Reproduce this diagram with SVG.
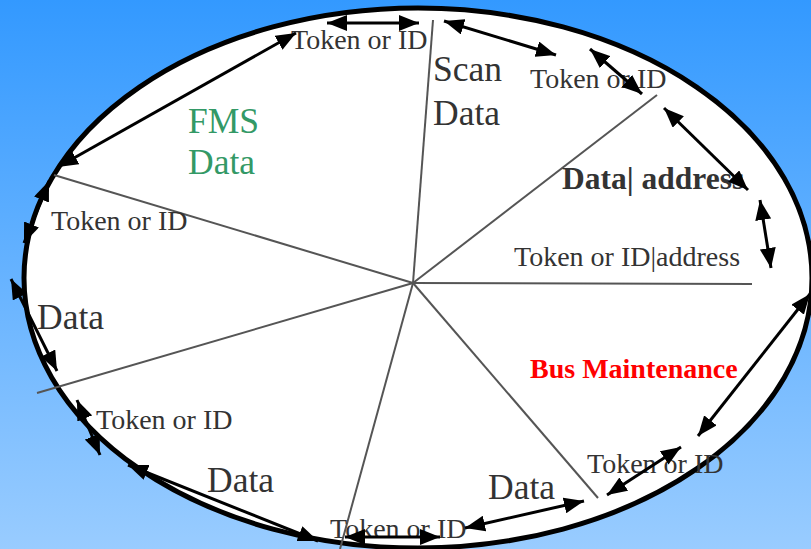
<svg xmlns="http://www.w3.org/2000/svg" width="811" height="549" viewBox="0 0 811 549">
  <defs>
    <linearGradient id="bg" x1="0" y1="0" x2="0" y2="1">
      <stop offset="0" stop-color="#3399FF"/>
      <stop offset="1" stop-color="#99CCFF"/>
    </linearGradient>
    <marker id="ah" viewBox="0 0 20 16" markerWidth="20" markerHeight="16" refX="20" refY="8" markerUnits="userSpaceOnUse" orient="auto-start-reverse">
      <path d="M0,0 L20,8 L0,16 z" fill="#000"/>
    </marker>
    <style>
      .t { font-family: "Liberation Serif", "Times New Roman", serif; fill: #333333; font-size: 28px; }
      .big { font-size: 35.5px; }
      .bold { font-weight: bold; }
      .spoke { stroke: #555555; stroke-width: 2; fill: none; }
      .arr { stroke: #000; stroke-width: 3; fill: none; marker-start: url(#ah); marker-end: url(#ah); }
    </style>
  </defs>
  <rect x="0" y="0" width="811" height="549" fill="url(#bg)"/>
  <g id="ring">
    <ellipse cx="418" cy="278" rx="394" ry="270" fill="#FFFFFF" stroke="#000" stroke-width="5"/>
  </g>
  <g id="spokes">
    <line class="spoke" x1="413" y1="283" x2="433" y2="20"/>
    <line class="spoke" x1="413" y1="283" x2="657" y2="95"/>
    <line class="spoke" x1="413" y1="283" x2="752" y2="284"/>
    <line class="spoke" x1="413" y1="283" x2="598" y2="498"/>
    <line class="spoke" x1="413" y1="283" x2="340" y2="549"/>
    <line class="spoke" x1="413" y1="283" x2="37" y2="393"/>
    <line class="spoke" x1="413" y1="283" x2="54" y2="175"/>
  </g>
  <g id="label-token-top"><text class="t" x="291" y="49">Token or ID</text></g>
  <g id="label-scan-data"><text class="t big" x="433" y="81">Scan</text><text class="t big" x="433" y="125">Data</text></g>
  <g id="label-fms-data"><text class="t big" x="188" y="133" style="fill:#339966">FMS</text><text class="t big" x="188" y="174" style="fill:#339966">Data</text></g>
  <g id="label-token-upper-right"><text class="t" x="530" y="88">Token or ID</text></g>
  <g id="label-data-address"><text class="t bold" x="562" y="189" style="font-size:31.5px">Data| address</text></g>
  <g id="label-token-address"><text class="t" x="514" y="266">Token or ID|address</text></g>
  <g id="label-token-left"><text class="t" x="51" y="230">Token or ID</text></g>
  <g id="label-data-left"><text class="t big" x="37" y="329">Data</text></g>
  <g id="label-token-lower-left"><text class="t" x="96" y="429">Token or ID</text></g>
  <g id="label-data-bottom-left"><text class="t big" x="207" y="492">Data</text></g>
  <g id="label-token-bottom"><text class="t" x="330" y="538">Token or ID</text></g>
  <g id="label-data-bottom-right"><text class="t big" x="488" y="499">Data</text></g>
  <g id="label-token-lower-right"><text class="t" x="587" y="473">Token or ID</text></g>
  <g id="label-bus-maintenance"><text class="t bold" x="530" y="378" style="fill:#FF0000;font-size:28px">Bus Maintenance</text></g>
  <g id="connectors">
    <line class="arr" x1="327" y1="23" x2="419" y2="23"/>
    <line class="arr" x1="444" y1="21" x2="556" y2="55"/>
    <line class="arr" x1="590" y1="49" x2="642" y2="94"/>
    <line class="arr" x1="664" y1="108" x2="748" y2="190"/>
    <line class="arr" x1="760" y1="200" x2="771" y2="268"/>
    <line class="arr" x1="810" y1="294" x2="698" y2="436"/>
    <line class="arr" x1="681" y1="447" x2="607" y2="495"/>
    <line class="arr" x1="584" y1="501" x2="465" y2="528"/>
    <line class="arr" x1="345" y1="537" x2="440" y2="537"/>
    <line class="arr" x1="128" y1="465" x2="318" y2="541"/>
    <line class="arr" x1="77" y1="400" x2="100" y2="455"/>
    <line class="arr" x1="11" y1="279" x2="57" y2="371"/>
    <line class="arr" x1="49" y1="181" x2="24" y2="243"/>
    <line class="arr" x1="296" y1="33" x2="58" y2="167"/>
  </g>
</svg>
